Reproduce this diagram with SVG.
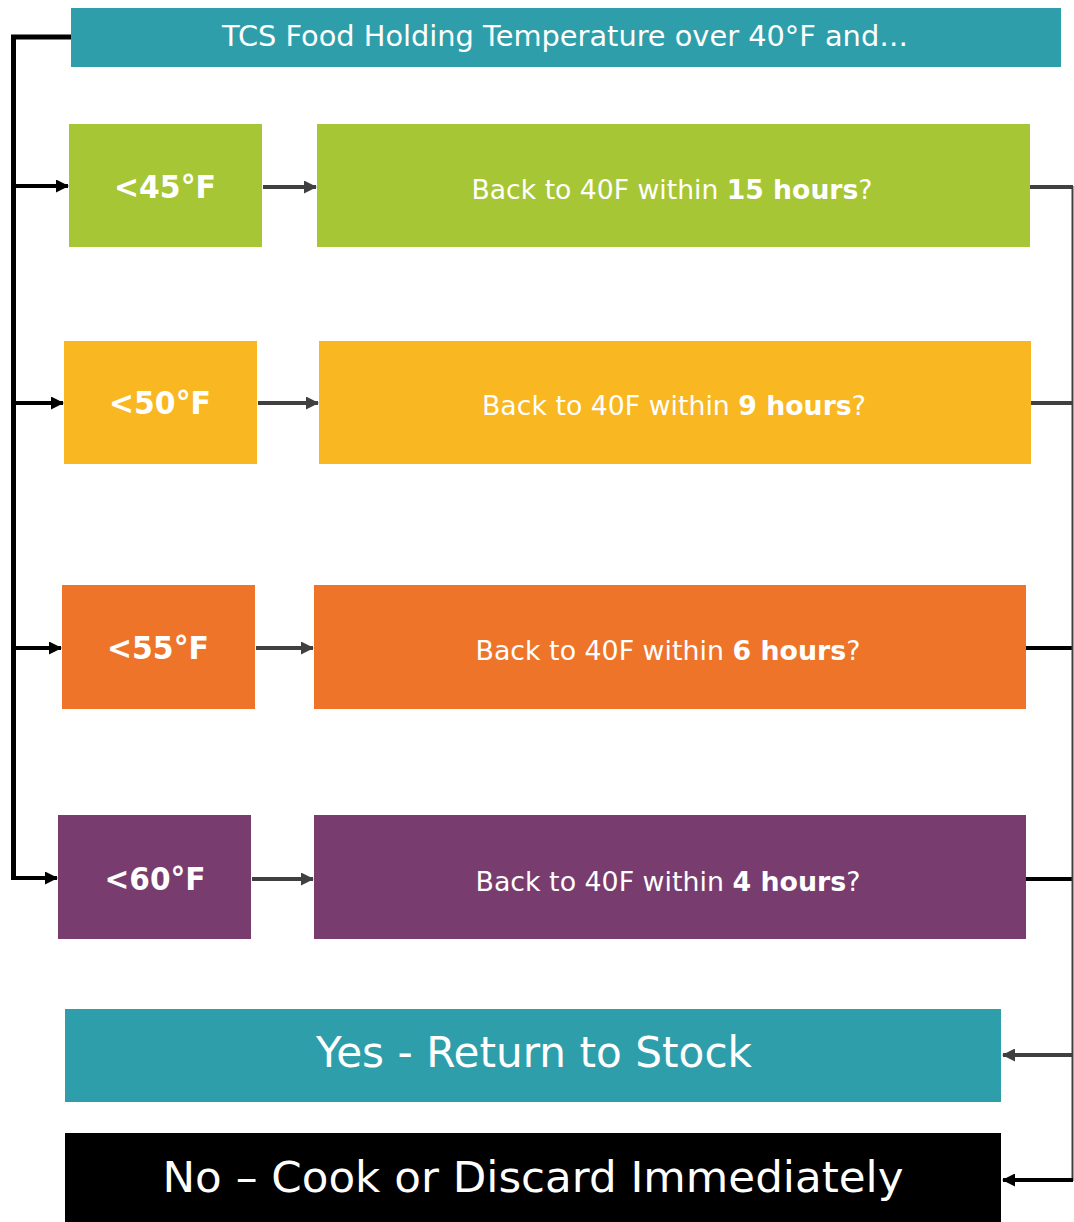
<svg xmlns="http://www.w3.org/2000/svg" width="1074" height="1222" viewBox="0 0 1074 1222">
<defs>
<style>
text{font-family:"DejaVu Sans","Liberation Sans",sans-serif;fill:#fff;text-anchor:middle}
.t{font-size:28px}
.l{font-size:32px;font-weight:bold}
.r{font-size:27px}
.b{font-weight:bold}
.big{font-size:43px}
.blk{stroke:#000;stroke-width:4;fill:none}
.gry{stroke:#404040;stroke-width:4;fill:none}
</style>
<marker id="ab" markerWidth="13" markerHeight="13" refX="12" refY="6.5" orient="auto" markerUnits="userSpaceOnUse" viewBox="0 0 13 13"><path d="M0,0 L13,6.5 L0,13 z" fill="#000"/></marker>
<marker id="ag" markerWidth="13" markerHeight="13" refX="12" refY="6.5" orient="auto" markerUnits="userSpaceOnUse" viewBox="0 0 13 13"><path d="M0,0 L13,6.5 L0,13 z" fill="#404040"/></marker>
</defs>
<rect width="1074" height="1222" fill="#fff"/>
<g id="connectors">
<path class="blk" d="M71,37 H13.5 V880" style="stroke-width:5"/>
<path class="blk" d="M13,186 H68" marker-end="url(#ab)"/>
<path class="blk" d="M13,403 H63" marker-end="url(#ab)"/>
<path class="blk" d="M13,648 H61" marker-end="url(#ab)"/>
<path class="blk" d="M13,878 H57" marker-end="url(#ab)"/>
<path class="gry" d="M263,187 H316" marker-end="url(#ag)"/>
<path class="gry" d="M258,403 H318" marker-end="url(#ag)"/>
<path class="gry" d="M256,648 H313" marker-end="url(#ag)"/>
<path class="gry" d="M252,879 H313" marker-end="url(#ag)"/>
<path class="gry" d="M1030,187 H1073"/>
<path class="gry" d="M1031,403 H1073"/>
<path class="blk" d="M1026,648 H1073"/>
<path class="blk" d="M1026,879 H1073"/>
<path d="M1072.5,186 V1181" stroke="#404040" stroke-width="2" fill="none"/>
<path class="gry" d="M1073,1055 H1003" marker-end="url(#ag)"/>
<path class="blk" d="M1073,1180 H1003" marker-end="url(#ab)"/>
</g>
<g id="title"><rect x="71" y="8" width="990" height="59" fill="#2E9FAA"/><text class="t" x="565" y="46" textLength="686" lengthAdjust="spacingAndGlyphs">TCS Food Holding Temperature over 40°F and…</text></g>
<g id="t45"><rect x="69" y="124" width="193" height="123" fill="#A7C636"/><text class="l" x="165" y="198" textLength="102" lengthAdjust="spacingAndGlyphs">&lt;45°F</text></g>
<g id="t50"><rect x="64" y="341" width="193" height="123" fill="#F9B722"/><text class="l" x="160" y="414" textLength="102" lengthAdjust="spacingAndGlyphs">&lt;50°F</text></g>
<g id="t55"><rect x="62" y="585" width="193" height="124" fill="#EE742A"/><text class="l" x="158" y="659" textLength="102" lengthAdjust="spacingAndGlyphs">&lt;55°F</text></g>
<g id="t60"><rect x="58" y="815" width="193" height="124" fill="#783C6E"/><text class="l" x="155" y="890" textLength="101" lengthAdjust="spacingAndGlyphs">&lt;60°F</text></g>
<g id="h15"><rect x="317" y="124" width="713" height="123" fill="#A7C636"/><text class="r" x="672" y="199" textLength="401" lengthAdjust="spacingAndGlyphs">Back to 40F within <tspan class="b">15 hours</tspan>?</text></g>
<g id="h9"><rect x="319" y="341" width="712" height="123" fill="#F9B722"/><text class="r" x="674" y="415" textLength="384" lengthAdjust="spacingAndGlyphs">Back to 40F within <tspan class="b">9 hours</tspan>?</text></g>
<g id="h6"><rect x="314" y="585" width="712" height="124" fill="#EE742A"/><text class="r" x="668" y="660" textLength="385" lengthAdjust="spacingAndGlyphs">Back to 40F within <tspan class="b">6 hours</tspan>?</text></g>
<g id="h4"><rect x="314" y="815" width="712" height="124" fill="#783C6E"/><text class="r" x="668" y="891" textLength="385" lengthAdjust="spacingAndGlyphs">Back to 40F within <tspan class="b">4 hours</tspan>?</text></g>
<g id="yes"><rect x="65" y="1009" width="936" height="93" fill="#2E9FAA"/><text class="big" x="534" y="1067" textLength="436" lengthAdjust="spacingAndGlyphs">Yes - Return to Stock</text></g>
<g id="no"><rect x="65" y="1133" width="936" height="89" fill="#000"/><text class="big" x="533" y="1192" textLength="741" lengthAdjust="spacingAndGlyphs">No – Cook or Discard Immediately</text></g>
</svg>
